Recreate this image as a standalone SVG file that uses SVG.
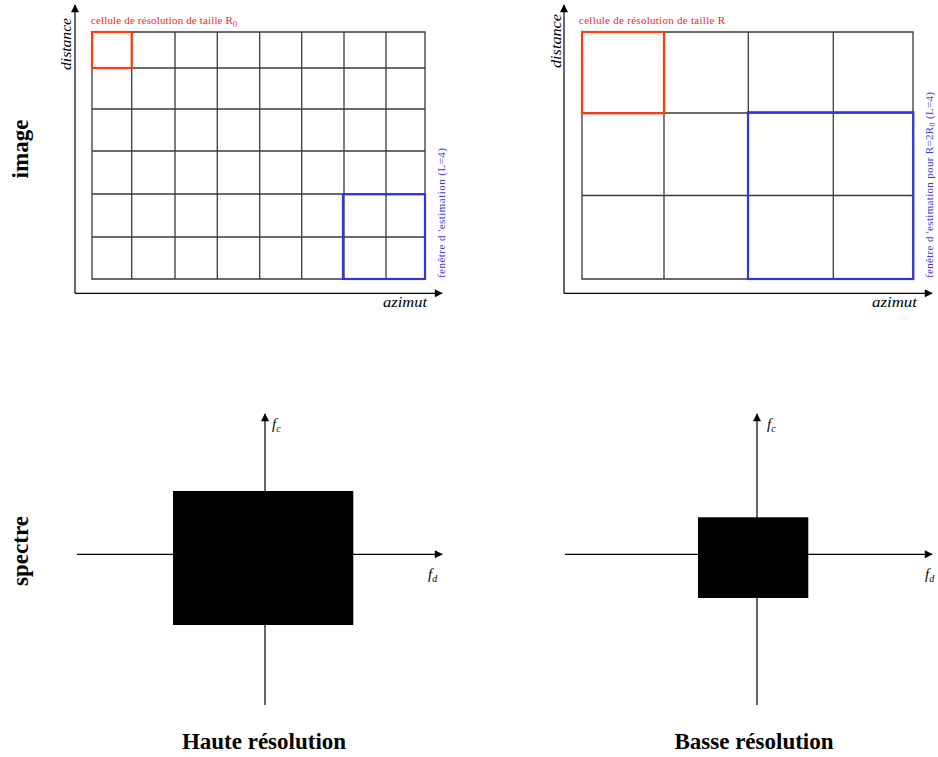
<svg xmlns="http://www.w3.org/2000/svg" width="938" height="757" viewBox="0 0 938 757">
<style>
.grid{stroke:#3a3a3a;stroke-width:1.3;fill:none}
.axis{stroke:#000;stroke-width:1.2;fill:none}
.red{stroke:#ff3a10;stroke-width:2.2;fill:none}
.blue{stroke:#3333e0;stroke-width:2.2;fill:none}
.lbl{font-family:"Liberation Serif",serif;font-weight:bold;font-size:23px;fill:#000}
.ital{font-family:"Liberation Serif",serif;font-style:italic;font-size:15px;fill:#000}
.redt{font-family:"Liberation Serif",serif;font-size:11px;fill:#ff2020}
.bluet{font-family:"Liberation Serif",serif;font-size:11px;fill:#3a3ae0}
</style>
<defs>
<marker id="ah" viewBox="0 0 10 10" refX="9" refY="5" markerWidth="10" markerHeight="8" markerUnits="userSpaceOnUse" orient="auto">
<path d="M0,0 L10,5 L0,10 Z" fill="#000"/>
</marker>
</defs>
<rect width="938" height="757" fill="#fff"/>

<g id="row-labels">
<text class="lbl" transform="translate(28,149) rotate(-90)" text-anchor="middle">image</text>
<text class="lbl" transform="translate(28,551) rotate(-90)" text-anchor="middle">spectre</text>
</g>

<g id="grid-left">
<path class="grid" d="M92,32H425V279H92Z M131.7,32V279 M175,32V279 M217.3,32V279 M259.7,32V279 M301.7,32V279 M344,32V279 M386,32V279 M92,68H425 M92,109H425 M92,151H425 M92,194H425 M92,237H425"/>
<rect class="red" x="92" y="32" width="39.7" height="36"/>
<rect class="blue" x="343" y="194.3" width="82" height="84.7"/>
<text class="redt" x="91" y="24" textLength="146" lengthAdjust="spacing">cellule de résolution de taille R<tspan font-size="8" dy="3">0</tspan></text>
<text class="bluet" transform="translate(445,278) rotate(-90)" textLength="130" lengthAdjust="spacing">fenêtre d 'estimation (L=4)</text>
</g>

<g id="grid-right">
<path class="grid" d="M582,32H913V279H582Z M664,32V279 M748.3,32V279 M833.3,32V279 M582,113H913 M582,195.5H913"/>
<rect class="red" x="582" y="32" width="82" height="81.3"/>
<rect class="blue" x="748" y="112.3" width="165.3" height="166.7"/>
<text class="redt" x="579" y="24" textLength="146" lengthAdjust="spacing">cellule de résolution de taille R</text>
<text class="bluet" transform="translate(933,278) rotate(-90)" textLength="186" lengthAdjust="spacing">fenêtre d 'estimation pour R=2R<tspan font-size="8" dy="2">0</tspan><tspan dy="-2"> (L=4)</tspan></text>
</g>

<g id="spectrum-left">
<rect x="173" y="491" width="180.3" height="134" fill="#000"/>
<text class="ital" x="272" y="429">f<tspan font-size="10" dy="3">c</tspan></text>
<text class="ital" x="428" y="579">f<tspan font-size="10" dy="3">d</tspan></text>
</g>

<g id="spectrum-right">
<rect x="698" y="517.3" width="110.3" height="80.7" fill="#000"/>
<text class="ital" x="767" y="429">f<tspan font-size="10" dy="3">c</tspan></text>
<text class="ital" x="925" y="579">f<tspan font-size="10" dy="3">d</tspan></text>
</g>

<g id="axis-labels">
<text class="ital" transform="translate(71,44) rotate(-90)" text-anchor="middle" textLength="52" lengthAdjust="spacingAndGlyphs">distance</text>
<text class="ital" transform="translate(561,41) rotate(-90)" text-anchor="middle" textLength="54" lengthAdjust="spacingAndGlyphs">distance</text>
<text class="ital" x="383" y="307" textLength="44" lengthAdjust="spacingAndGlyphs">azimut</text>
<text class="ital" x="872" y="307" textLength="45" lengthAdjust="spacingAndGlyphs">azimut</text>
</g>

<g id="captions">
<text class="lbl" x="264" y="749" text-anchor="middle">Haute résolution</text>
<text class="lbl" x="754" y="749" text-anchor="middle">Basse résolution</text>
</g>

<g id="connectors">
<line class="axis" x1="75" y1="293.3" x2="75" y2="5" marker-end="url(#ah)"/>
<line class="axis" x1="75" y1="293.3" x2="442" y2="293.3" marker-end="url(#ah)"/>
<line class="axis" x1="564" y1="293.3" x2="564" y2="5" marker-end="url(#ah)"/>
<line class="axis" x1="564" y1="293.3" x2="932" y2="293.3" marker-end="url(#ah)"/>
<line class="axis" x1="265" y1="705" x2="265" y2="414" marker-end="url(#ah)"/>
<line class="axis" x1="77" y1="554.3" x2="442" y2="554.3" marker-end="url(#ah)"/>
<line class="axis" x1="757" y1="705" x2="757" y2="414" marker-end="url(#ah)"/>
<line class="axis" x1="565" y1="554.3" x2="932" y2="554.3" marker-end="url(#ah)"/>
</g>
</svg>
